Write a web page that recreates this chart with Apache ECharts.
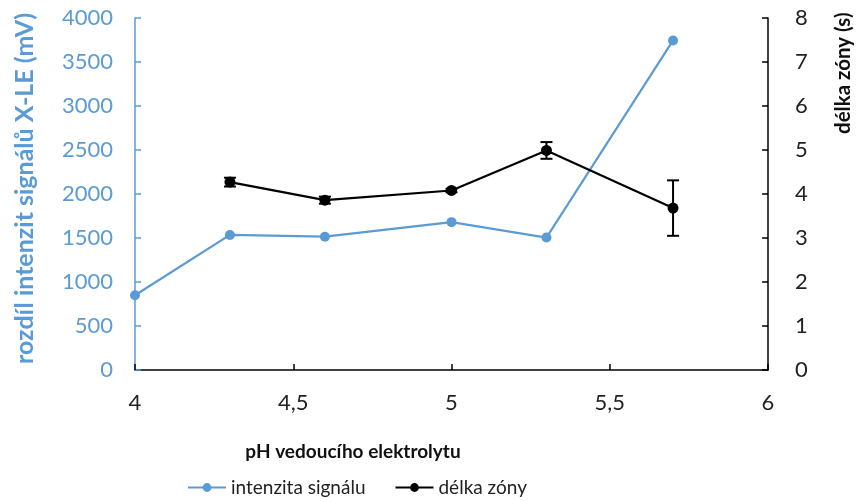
<!DOCTYPE html>
<html><head><meta charset="utf-8">
<script src="https://cdn.jsdelivr.net/npm/echarts@6/dist/echarts.min.js"></script>
<style>html,body{margin:0;padding:0;background:#fff}#c{width:862px;height:501px}</style>
</head><body><div id="c"></div>
<script>
const phIntenzita = [4, 4.3, 4.6, 5.0, 5.3, 5.7];
const intenzita = [850, 1535, 1515, 1680, 1505, 3745];
const phZona = [4.3, 4.6, 5.0, 5.3, 5.7];
const delkaZony = [4.27, 3.86, 4.08, 4.99, 3.68];
const delkaChyba = [0.1, 0.08, 0.04, 0.19, 0.63];
const xTicks = [4, 4.5, 5, 5.5, 6];
const leftTicks = [0, 500, 1000, 1500, 2000, 2500, 3000, 3500, 4000];
const rightTicks = [0, 1, 2, 3, 4, 5, 6, 7, 8];

const BLUE = '#5B9BD5';
const FONT = 'Lato';
const chart = echarts.init(document.getElementById('c'));
const errData = phZona.map((x, i) => [x, delkaZony[i] - delkaChyba[i], delkaZony[i] + delkaChyba[i]]);
chart.setOption({
  animation: false,
  textStyle: { fontFamily: FONT },
  grid: { left: 135, right: 94, top: 18, bottom: 131, containLabel: false },
  xAxis: {
    type: 'value', min: xTicks[0], max: xTicks[xTicks.length - 1], interval: 0.5,
    axisLine: { lineStyle: { color: '#000', width: 1.5 } },
    axisTick: { inside: true, length: 6, lineStyle: { color: '#000', width: 1.5 } },
    splitLine: { show: false },
    axisLabel: { color: '#222', fontSize: 22, margin: 22, fontFamily: FONT, formatter: v => String(v).replace('.', ',') }
  },
  yAxis: [{
    type: 'value', min: leftTicks[0], max: leftTicks[leftTicks.length - 1], interval: 500,
    axisLine: { show: true, lineStyle: { color: BLUE, width: 1.5 } },
    axisTick: { show: true, inside: true, length: 6, lineStyle: { color: BLUE, width: 1.5 } },
    splitLine: { show: false },
    axisLabel: { color: BLUE, fontSize: 22, margin: 22, fontFamily: FONT, formatter: v => String(v) }
  }, {
    type: 'value', min: rightTicks[0], max: rightTicks[rightTicks.length - 1], interval: 1,
    position: 'right',
    axisLine: { show: true, lineStyle: { color: '#000', width: 1.5 } },
    axisTick: { show: true, inside: true, length: 6, lineStyle: { color: '#000', width: 1.5 } },
    splitLine: { show: false },
    axisLabel: { color: '#222', fontSize: 22, margin: 27, fontFamily: FONT, formatter: v => String(v) }
  }],
  legend: {
    left: 187, top: 478, padding: 0, itemWidth: 38, itemHeight: 11, itemGap: 29,
    textStyle: { fontSize: 19, color: '#222', fontFamily: FONT },
    data: ['intenzita signálu', 'délka zóny']
  },
  graphic: [
    { type: 'text', rotation: Math.PI / 2, x: 12, y: 364,
      style: { text: 'rozdíl intenzit signálů X-LE (mV)', fill: BLUE, font: 'bold 25px Lato', textAlign: 'left', textVerticalAlign: 'top' } },
    { type: 'text', rotation: Math.PI / 2, x: 833, y: 134,
      style: { text: 'délka zóny (s)', fill: '#111', font: 'bold 20.5px Lato', textAlign: 'left', textVerticalAlign: 'top' } },
    { type: 'text', x: 353, y: 452,
      style: { text: 'pH vedoucího elektrolytu', fill: '#111', font: 'bold 19px Lato', textAlign: 'center', textVerticalAlign: 'middle' } }
  ],
  series: [{
    name: 'intenzita signálu', type: 'line', yAxisIndex: 0,
    data: phIntenzita.map((x, i) => [x, intenzita[i]]),
    symbol: 'circle', symbolSize: 10,
    lineStyle: { color: BLUE, width: 2.2 }, itemStyle: { color: BLUE }
  }, {
    name: 'délka zóny', type: 'line', yAxisIndex: 1,
    data: phZona.map((x, i) => [x, delkaZony[i]]),
    symbol: 'circle', symbolSize: 11, z: 3,
    lineStyle: { color: '#000', width: 2.2 }, itemStyle: { color: '#000' }
  }, {
    type: 'custom', yAxisIndex: 1, z: 4,
    data: errData,
    renderItem: (params, api) => {
      const x = api.value(0);
      const lo = api.coord([x, api.value(1)]);
      const hi = api.coord([x, api.value(2)]);
      const w = 6;
      const st = { stroke: '#000', lineWidth: 2 };
      return { type: 'group', children: [
        { type: 'line', shape: { x1: lo[0], y1: lo[1], x2: hi[0], y2: hi[1] }, style: st },
        { type: 'line', shape: { x1: lo[0] - w, y1: lo[1], x2: lo[0] + w, y2: lo[1] }, style: st },
        { type: 'line', shape: { x1: hi[0] - w, y1: hi[1], x2: hi[0] + w, y2: hi[1] }, style: st }
      ]};
    }
  }]
});
</script></body></html>
